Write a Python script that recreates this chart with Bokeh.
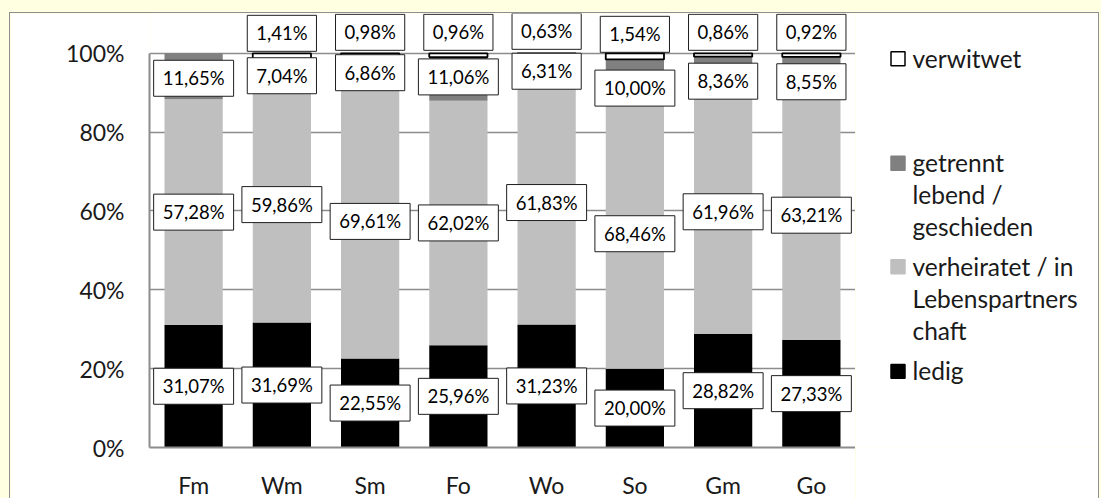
import numpy as np
from bokeh.plotting import figure
from bokeh.models import ColumnDataSource, FactorRange, Range1d, FixedTicker, PrintfTickFormatter
from bokeh.layouts import row, column
from bokeh.core.properties import value
from bokeh.embed import file_html
from bokeh.resources import INLINE

# --- data (percent shares per group) ---
groups = ["Fm", "Wm", "Sm", "Fo", "Wo", "So", "Gm", "Go"]
ledig = [31.07, 31.69, 22.55, 25.96, 31.23, 20.00, 28.82, 27.33]
verheiratet = [57.28, 59.86, 69.61, 62.02, 61.83, 68.46, 61.96, 63.21]
getrennt = [11.65, 7.04, 6.86, 11.06, 6.31, 10.00, 8.36, 8.55]
verwitwet = [0.00, 1.41, 0.98, 0.96, 0.63, 1.54, 0.86, 0.92]
y_ticks = [0, 20, 40, 60, 80, 100]

# legend texts, wrapped the way they are displayed
legend_labels = [
    ["ledig"],
    ["verheiratet / in", "Lebenspartners", "chaft"],
    ["getrennt", "lebend /", "geschieden"],
    ["verwitwet"],
]

# --- styling ---
FONT = "Lato"
PAGE_BG = "#FFFFE1"
GRID = "#8C8C8C"
fills = ["#000000", "#BFBFBF", "#808080", "#FFFFFF"]
outlines = [None, None, None, "#000000"]
BAR_W = 0.66
FRAME_H = 436
BOTTOM_BORDER = 64
FIG_H = FRAME_H + BOTTOM_BORDER   # lower part runs past the page edge and is cut off
# small vertical nudges (screen px) used to keep neighbouring labels apart
getrennt_nudge = [2, 3, 2, -2, 3, 9, 8, 8]
verwitwet_nudge = [0, -20, -21, -21, -22, -19, -21, -21]


def pct(v):
    return f"{v:.2f}".replace(".", ",") + "%"


p = figure(
    width=845, height=FIG_H,
    x_range=FactorRange(*groups, range_padding=0),
    y_range=Range1d(0, FRAME_H / 3.96),
    output_backend="svg", toolbar_location=None,
    min_border_left=139, min_border_right=0, min_border_top=0, min_border_bottom=BOTTOM_BORDER,
    background_fill_color="white", border_fill_color="white", outline_line_color=None,
)

series = [ledig, verheiratet, getrennt, verwitwet]
bottom = np.zeros(len(groups))
lab = dict(x=[], y=[], t=[], dy=[])
for k, (vals, fc, lc) in enumerate(zip(series, fills, outlines)):
    vals = np.array(vals, dtype=float)
    top = bottom + vals
    keep = vals > 0
    src = ColumnDataSource(dict(
        x=[g for g, m in zip(groups, keep) if m],
        bottom=bottom[keep], top=top[keep],
    ))
    p.vbar(x="x", bottom="bottom", top="top", width=BAR_W, source=src,
           fill_color=fc, line_color=lc, line_width=1.8)
    for i, g in enumerate(groups):
        if vals[i] <= 0:
            continue
        lab["x"].append(g)
        lab["t"].append(pct(vals[i]))
        if k == 3:
            lab["y"].append(top[i])
            lab["dy"].append(verwitwet_nudge[i])
        else:
            lab["y"].append((bottom[i] + top[i]) / 2)
            lab["dy"].append(getrennt_nudge[i] if k == 2 else 0)
    bottom = top

p.text(x="x", y="y", text="t", y_offset="dy", source=ColumnDataSource(lab),
       text_align="center", text_baseline="middle",
       text_font=value(FONT), text_font_size="18.5px", text_color="#000000",
       background_fill_color="white", border_line_color="#1E1E1E",
       border_line_width=1, padding=(9, 7))

# axes
p.yaxis.ticker = FixedTicker(ticks=y_ticks)
p.yaxis.formatter = PrintfTickFormatter(format="%d%%")
p.yaxis.bounds = (0, 100)
p.yaxis.axis_line_color = GRID
p.yaxis.axis_line_width = 2
p.yaxis.major_tick_line_color = None
p.yaxis.minor_tick_line_color = None
p.yaxis.major_tick_out = 0
p.yaxis.major_tick_in = 0
p.yaxis.major_label_standoff = 25
p.yaxis.major_label_text_font = FONT
p.yaxis.major_label_text_font_size = "23px"
p.yaxis.major_label_text_color = "#1A1A1A"

p.xaxis.axis_line_color = GRID
p.xaxis.axis_line_width = 2
p.xaxis.major_tick_line_color = None
p.xaxis.minor_tick_line_color = None
p.xaxis.major_tick_out = 0
p.xaxis.major_tick_in = 0
p.xaxis.major_label_standoff = 23
p.xaxis.major_label_text_font = FONT
p.xaxis.major_label_text_font_size = "23px"
p.xaxis.major_label_text_color = "#1A1A1A"

p.xgrid.grid_line_color = None
p.ygrid.ticker = FixedTicker(ticks=y_ticks)
p.ygrid.grid_line_color = GRID
p.ygrid.grid_line_width = 1.4

# legend panel (pixel-like coordinates, y grows downward); same frame height as the chart
leg = figure(
    width=243, height=FIG_H,
    x_range=Range1d(0, 243), y_range=Range1d(FRAME_H, 0),
    output_backend="svg", toolbar_location=None,
    x_axis_location=None, y_axis_location=None,
    min_border=0, min_border_left=0, min_border_right=0, min_border_top=0,
    min_border_bottom=BOTTOM_BORDER,
    background_fill_color="white", border_fill_color="white", outline_line_color=None,
)
leg.xgrid.visible = False
leg.ygrid.visible = False

legend_rows = [359, 254, 150, 45]   # first-line centre of each entry
LINE_STEP = 32
sq = dict(x=[], y=[], fill=[], line=[])
txt = dict(x=[], y=[], t=[])
for k, lines in enumerate(legend_labels):
    y0 = legend_rows[k]
    sq["x"].append(42.5)
    sq["y"].append(y0 + 0.5)
    sq["fill"].append(fills[k])
    sq["line"].append(outlines[k] if outlines[k] else fills[k])
    for j, line in enumerate(lines):
        txt["x"].append(57)
        txt["y"].append(y0 + j * LINE_STEP)
        txt["t"].append(line)

leg.rect(x="x", y="y", width=14, height=14, fill_color="fill", line_color="line",
         line_width=1.5, source=ColumnDataSource(sq))
leg.text(x="x", y="y", text="t", source=ColumnDataSource(txt),
         text_align="left", text_baseline="middle",
         text_font=value(FONT), text_font_size="24.5px", text_color="#1A1A1A")

panel = row(p, leg, margin=(13, 0, 0, 10), styles={"outline": "1px solid #8F8F8F"})
page = column(panel, width=1101, height=498,
              styles={"background-color": PAGE_BG, "overflow": "hidden"})

open("out.html", "w").write(file_html(page, INLINE))
